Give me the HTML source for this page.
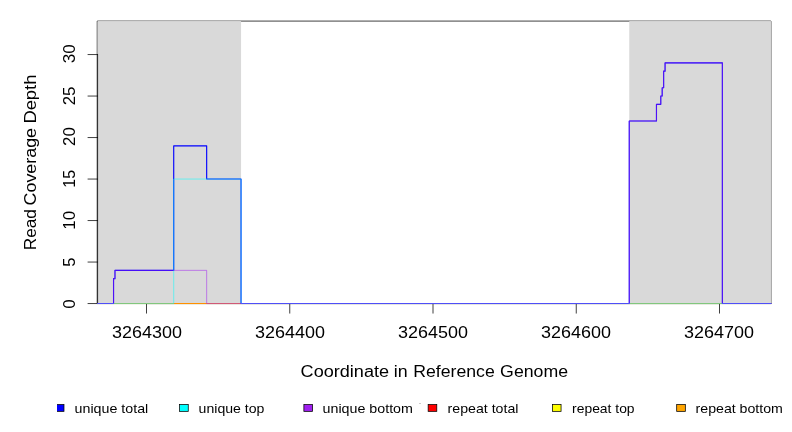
<!DOCTYPE html>
<html><head><meta charset="utf-8"><title>coverage</title>
<style>html,body{margin:0;padding:0;background:#fff;overflow:hidden}svg{display:block;will-change:transform}text{font-family:"Liberation Sans",sans-serif;fill:#000}.ax{font-size:16.0px}.lg{font-size:12.7px}.k{stroke:#000;stroke-width:.75;fill:none;stroke-linecap:round;stroke-linejoin:round}.d{fill:none;stroke-width:.525;stroke-linejoin:round;stroke-linecap:round}</style></head><body>
<svg width="792" height="432" viewBox="0 0 792 432">
<rect width="792" height="432" fill="#fff"/>
<rect class="k" x="97.6" y="21.08" width="673.35" height="282.47"/>
<rect x="97.6" y="21.08" width="143.45" height="282.47" fill="#d9d9d9"/>
<rect x="629.25" y="21.08" width="141.7" height="282.47" fill="#d9d9d9"/>
<path class="k" d="M97.6 303.55V54.55M97.6 303.55h-9.6M97.6 262.05h-9.6M97.6 220.55h-9.6M97.6 179.05h-9.6M97.6 137.55h-9.6M97.6 96.05h-9.6M97.6 54.55h-9.6"/>
<path class="k" d="M146.5 303.55H719.5M146.5 303.55v9.6M289.75 303.55v9.6M433.0 303.55v9.6M576.25 303.55v9.6M719.5 303.55v9.6"/>
<path class="d" stroke="#f00" style="stroke-width:1.125" d="M97.79 303.55H771.07"/>
<path class="d" stroke="#ff0" d="M97.79 303.55H771.07"/>
<path class="d" stroke="#ffa500" d="M97.79 303.55H771.07"/>
<path class="d" stroke="#00f" style="stroke-width:1.125" d="M97.79 303.55H113.55V278.65H114.98V270.35H173.72V145.85H206.67V179.05H241.05V303.55H629.25V120.95H656.47V104.35H660.77V96.05H662.2V87.75H663.63V71.15H665.07V62.85H722.37V303.55H771.07"/>
<path class="d" stroke="#0ff" d="M97.79 303.55H173.72V179.05H241.05V303.55H771.07"/>
<path class="d" stroke="#a020f0" d="M97.79 303.55H113.55V278.65H114.98V270.35H206.67V303.55H629.25V120.95H656.47V104.35H660.77V96.05H662.2V87.75H663.63V71.15H665.07V62.85H722.37V303.55H771.07"/>
<text class="ax" x="112.12" y="338" textLength="69.83" lengthAdjust="spacingAndGlyphs">3264300</text>
<text class="ax" x="255.12" y="338" textLength="69.83" lengthAdjust="spacingAndGlyphs">3264400</text>
<text class="ax" x="398.12" y="338" textLength="69.83" lengthAdjust="spacingAndGlyphs">3264500</text>
<text class="ax" x="541.12" y="338" textLength="69.83" lengthAdjust="spacingAndGlyphs">3264600</text>
<text class="ax" x="684.12" y="338" textLength="69.83" lengthAdjust="spacingAndGlyphs">3264700</text>
<text class="ax" x="300.58" y="376.5" textLength="88.47" lengthAdjust="spacingAndGlyphs">Coordinate</text>
<text class="ax" x="393.81" y="376.5" textLength="13.85" lengthAdjust="spacingAndGlyphs">in</text>
<text class="ax" x="413.3" y="376.5" textLength="81.48" lengthAdjust="spacingAndGlyphs">Reference</text>
<text class="ax" x="500.11" y="376.5" textLength="67.93" lengthAdjust="spacingAndGlyphs">Genome</text>
<g transform="rotate(-90)">
<text class="ax" x="-63.3" y="74.7" textLength="19.02" lengthAdjust="spacingAndGlyphs">30</text>
<text class="ax" x="-105.3" y="74.7" textLength="18.76" lengthAdjust="spacingAndGlyphs">25</text>
<text class="ax" x="-145.9" y="74.7" textLength="18.81" lengthAdjust="spacingAndGlyphs">20</text>
<text class="ax" x="-187.67" y="74.7" textLength="17.79" lengthAdjust="spacingAndGlyphs">15</text>
<text class="ax" x="-229.74" y="74.7" textLength="18.85" lengthAdjust="spacingAndGlyphs">10</text>
<text class="ax" x="-266.71" y="74.7" textLength="9.15" lengthAdjust="spacingAndGlyphs">5</text>
<text class="ax" x="-308.71" y="74.7" textLength="9.42" lengthAdjust="spacingAndGlyphs">0</text>
<text class="ax" x="-250.16" y="36.2" textLength="41.07" lengthAdjust="spacingAndGlyphs">Read</text>
<text class="ax" x="-205.41" y="36.2" textLength="77.45" lengthAdjust="spacingAndGlyphs">Coverage</text>
<text class="ax" x="-123.61" y="36.2" textLength="49.0" lengthAdjust="spacingAndGlyphs">Depth</text>
</g>
<defs><clipPath id="c"><rect x="57" y="0" width="735" height="432"/></clipPath></defs>
<g clip-path="url(#c)">
<rect x="55.34" y="404.55" width="8.64" height="6.8" fill="#00f" stroke="#000" stroke-width=".75"/>
<rect x="179.61" y="404.55" width="8.64" height="6.8" fill="#0ff" stroke="#000" stroke-width=".75"/>
<rect x="303.88" y="404.55" width="8.64" height="6.8" fill="#a020f0" stroke="#000" stroke-width=".75"/>
<rect x="428.15" y="404.55" width="8.64" height="6.8" fill="#f00" stroke="#000" stroke-width=".75"/>
<rect x="552.42" y="404.55" width="8.64" height="6.8" fill="#ff0" stroke="#000" stroke-width=".75"/>
<rect x="676.69" y="404.55" width="8.64" height="6.8" fill="#ffa500" stroke="#000" stroke-width=".75"/>
</g>
<text class="lg" x="74.57" y="412.5" textLength="73.68" lengthAdjust="spacingAndGlyphs">unique total</text>
<text class="lg" x="198.59" y="412.5" textLength="65.81" lengthAdjust="spacingAndGlyphs">unique top</text>
<text class="lg" x="322.57" y="412.5" textLength="90.37" lengthAdjust="spacingAndGlyphs">unique bottom</text>
<text class="lg" x="447.56" y="412.5" textLength="70.89" lengthAdjust="spacingAndGlyphs">repeat total</text>
<text class="lg" x="572.08" y="412.5" textLength="62.5" lengthAdjust="spacingAndGlyphs">repeat top</text>
<text class="lg" x="695.56" y="412.5" textLength="87.37" lengthAdjust="spacingAndGlyphs">repeat bottom</text>
<rect x="419" y="403" width="2" height="1" fill="#ccc"/>
</svg></body></html>
